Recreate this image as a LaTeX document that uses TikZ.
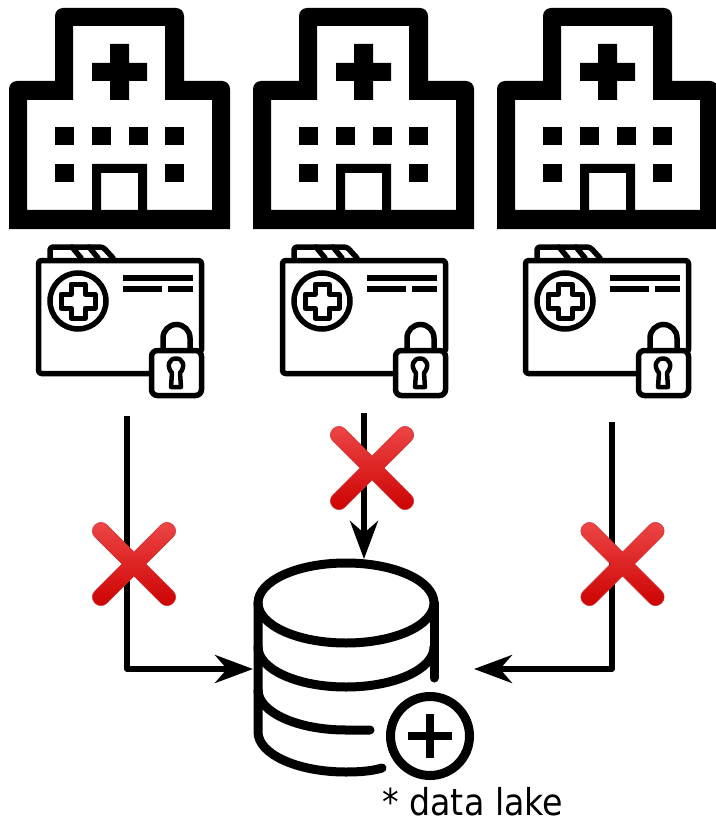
\documentclass[tikz,border=0pt]{standalone}
\usepackage{fontspec}
\setmainfont{DejaVu Sans}[FakeStretch=0.9]
\usetikzlibrary{arrows.meta}
\definecolor{red1}{HTML}{EE4848}
\definecolor{red2}{HTML}{CC0000}
\definecolor{red3}{HTML}{D03030}
\tikzset{
  x=1pt,y=-1pt,
  flow/.style={line width=5.5pt,line join=round,-{Stealth[length=38pt,width=28pt,inset=12pt]}},
  folderline/.style={line width=5.5pt,line cap=round,line join=round,rounded corners=3pt},
  dbline/.style={line width=9pt,line cap=round,line join=round},
  hospital/.pic={
    \fill[even odd rule]
      (9,229) -- (9,89) .. controls (9,84.6) and (12.6,81) .. (17,81) -- (55,81) -- (55,16) .. controls (55,11.6) and (58.6,8) .. (63,8) -- (176,8) .. controls (180.4,8) and (184,11.6) .. (184,16) -- (184,81) -- (222,81) .. controls (226.4,81) and (230,84.6) .. (230,89) -- (230,229) -- cycle
      (73,26) -- (165,26) -- (165,100) -- (212,100) -- (212,210) -- (27,210) -- (27,100) -- (73,100) -- cycle;
    \fill (92,164) -- (147,164) -- (147,210) -- (138,210) -- (138,173) -- (101,173) -- (101,210) -- (92,210) -- cycle;
    \fill (110,44) -- (129,44) -- (129,63) -- (147,63) -- (147,81) -- (129,81) -- (129,100) -- (110,100) -- (110,81) -- (92,81) -- (92,63) -- (110,63) -- cycle;
    \foreach \wx/\wy in {55/127,92/127,129/127,165/127,55/164,165/164}
      \fill (\wx,\wy) rectangle ++(18.5,18.5);
  },
  folder/.pic={
    \draw[folderline] (151,373.5) -- (38.5,373.5) -- (38.5,260.5) -- (201.5,260.5) -- (201.5,350);
    \draw[folderline] (50,258) -- (50,247) -- (103,247) -- (113,258);
    \draw[folderline] (72,247) -- (81,258);
    \draw[folderline] (89,247) -- (98,258);
    \draw[line width=5.5pt] (78,301) circle[radius=28];
    \draw[line width=5pt,line join=round] (71,284) -- (85,284) -- (85,294) -- (95,294) -- (95,308) -- (85,308) -- (85,318) -- (71,318) -- (71,308) -- (61,308) -- (61,294) -- (71,294) -- cycle;
    \draw[line width=5.5pt] (123,278) -- (193,278);
    \draw[line width=5.5pt] (123,289) -- (162,289) (168,289) -- (193,289);
    \draw[line width=5.5pt,rounded corners=6pt,fill=white] (151.5,350.5) rectangle (201.5,395.5);
    \draw[line width=5.5pt] (163,350) -- (163,338) arc[start angle=180,end angle=360,radius=13.5] -- (190,350);
    \draw[line width=4.5pt,line join=round] (172,373) .. controls (166,366) and (169,358.5) .. (176,358.5) .. controls (183,358.5) and (186,366) .. (180,373) -- (181,387) -- (171,387) -- cycle;
  },
  redcross/.pic={
    \path[top color=red1,bottom color=red2,draw=red3,line width=0.5pt]
      (12,0) [rounded corners=8pt] -- (45,33) -- (33,45) [sharp corners] -- (0,12)
      [rounded corners=8pt] -- (-33,45) -- (-45,33) [sharp corners] -- (-12,0)
      [rounded corners=8pt] -- (-45,-33) -- (-33,-45) [sharp corners] -- (0,-12)
      [rounded corners=8pt] -- (33,-45) -- (45,-33) [sharp corners] -- cycle;
  }
}
\begin{document}
\begin{tikzpicture}
\useasboundingbox[fill=white] (0,0) rectangle (715,818);
\pic (hosp1) at (0,0) {hospital};
\pic (hosp2) at (244,0) {hospital};
\pic (hosp3) at (488,0) {hospital};
\pic (rec1) at (0,0) {folder};
\pic (rec2) at (244,0) {folder};
\pic (rec3) at (487,0) {folder};
% database
\draw[dbline] (346,563) .. controls (297,563) and (258,581) .. (258,603) .. controls (258,625) and (297,643) .. (346,643) .. controls (395,643) and (434,625) .. (434,603) .. controls (434,581) and (395,563) .. (346,563) -- cycle;
\draw[dbline] (258,603) -- (258,732) .. controls (258,754) and (297,772) .. (346,772) .. controls (360,772) and (372,771) .. (382,768);
\draw[dbline] (434,603) -- (434,678);
\draw[dbline] (258,647) .. controls (258,669) and (297,687) .. (346,687) .. controls (395,687) and (434,669) .. (434,647);
\draw[dbline] (258,690) .. controls (258,712) and (297,730) .. (346,730) -- (370,730);
\draw[line width=9pt] (430,736) circle[radius=39.5];
\draw[line width=8pt] (408,736) -- (452,736) (430,714) -- (430,758);
% connector ends
\coordinate (src1) at (127,416);
\coordinate (src2) at (364,413);
\coordinate (src3) at (612,422);
\coordinate (dbL) at (253,669);
\coordinate (dbT) at (364,559);
\coordinate (dbR) at (474,669);
\draw[flow] (src1) |- (dbL);
\draw[flow] (src2) -- (dbT);
\draw[flow] (src3) |- (dbR);
\pic (x1) at (134,564) {redcross};
\pic (x2) at (372,468) {redcross};
\pic (x3) at (622.5,564) {redcross};
\node[anchor=base west,inner sep=0pt,font=\fontsize{37pt}{37pt}\selectfont] (lake) at (382,815) {* data lake};
\end{tikzpicture}
\end{document}
